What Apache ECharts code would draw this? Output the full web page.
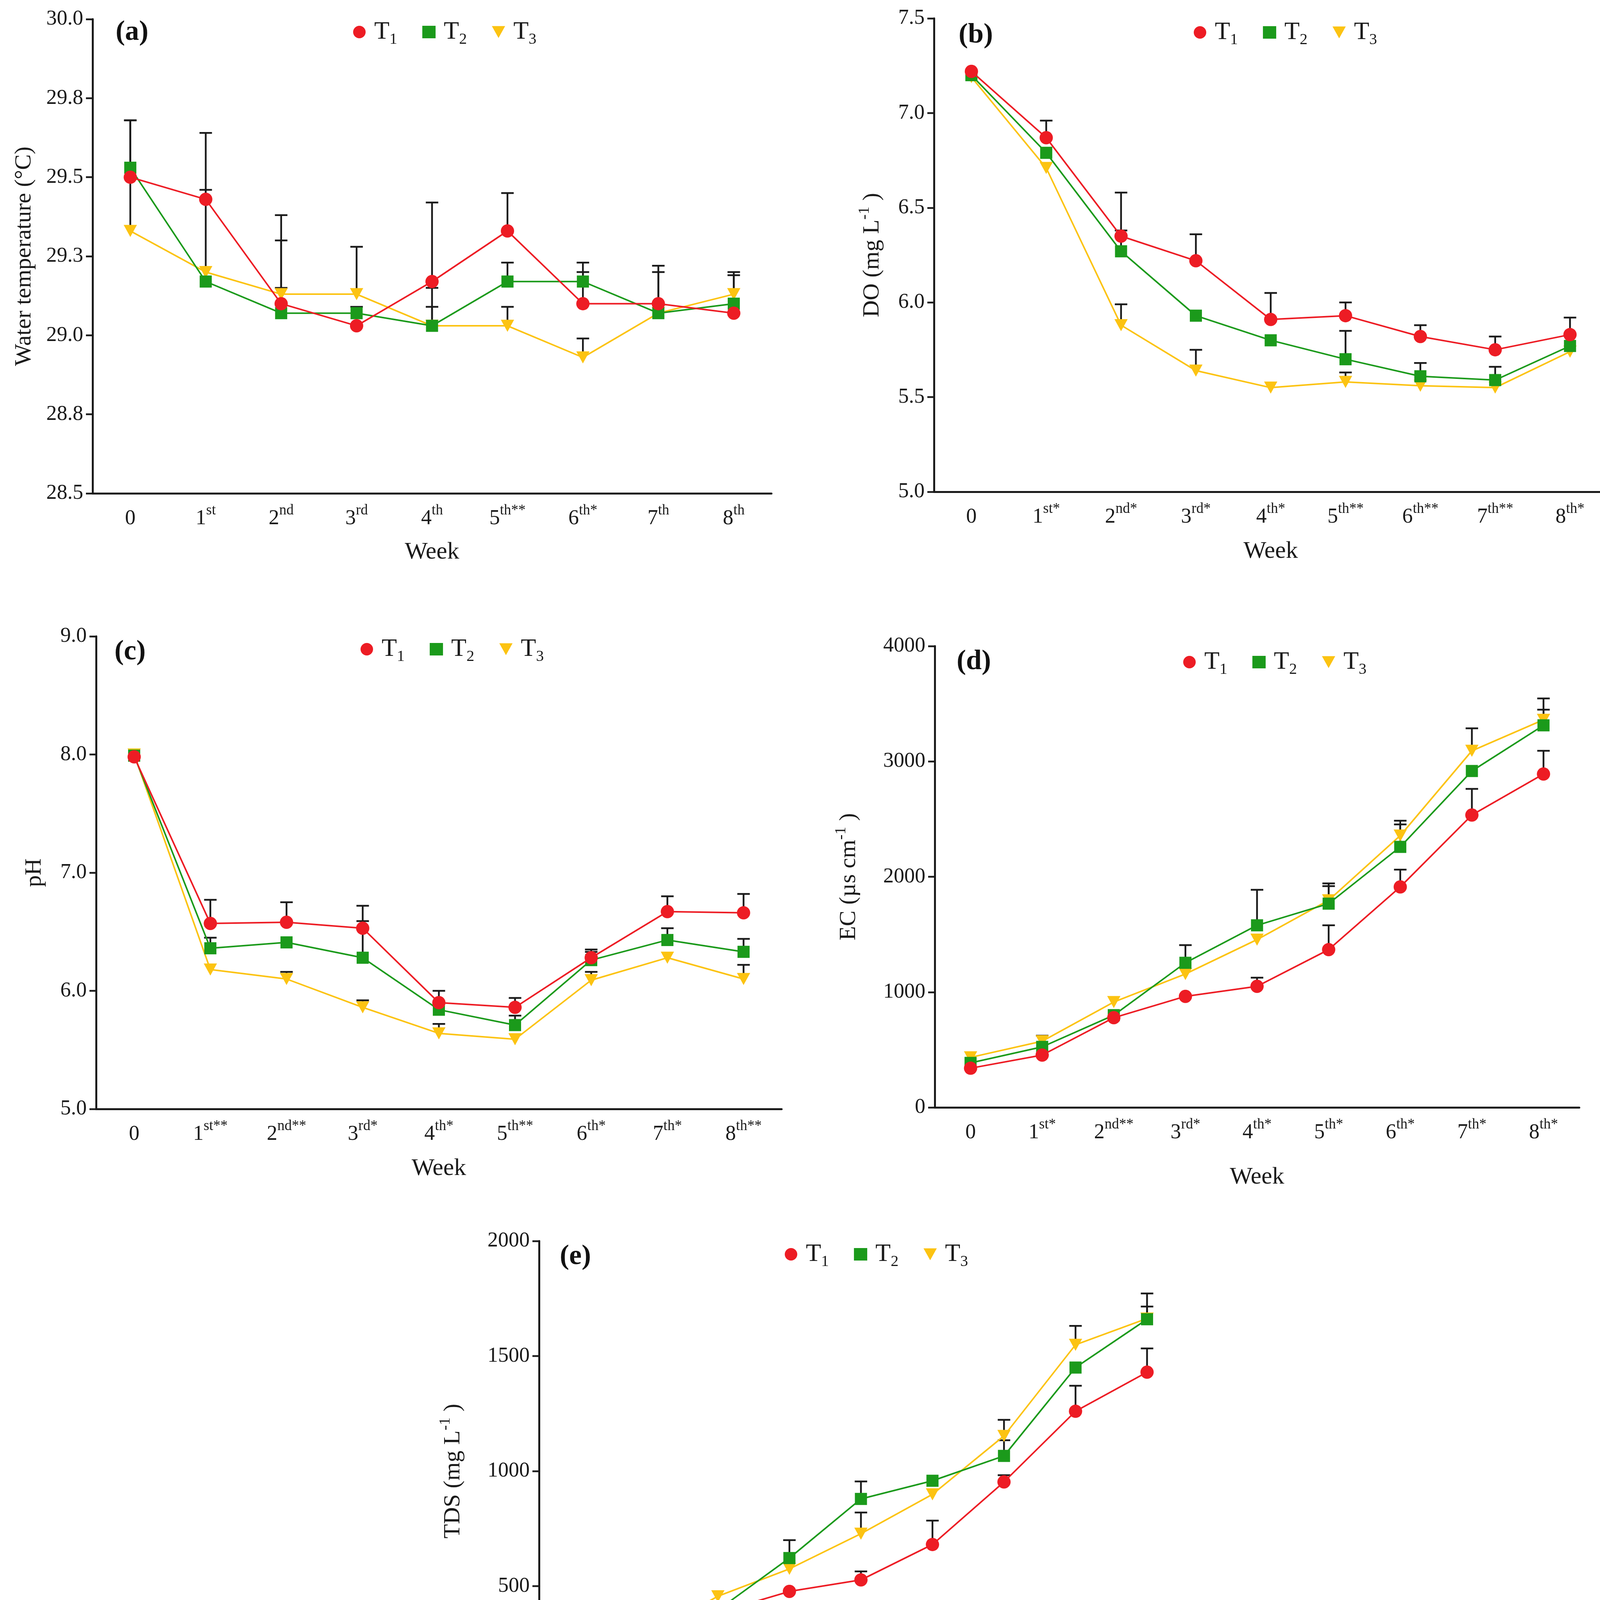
<!DOCTYPE html>
<html><head><meta charset="utf-8">
<script src="https://cdn.jsdelivr.net/npm/echarts@6.0.0/dist/echarts.min.js"></script>
<style>html,body{margin:0;padding:0;background:#fff}#c{width:4135px;height:4588px}</style>
</head><body><div id="c"></div>
<script>
// ---------- categories (week tick labels) ----------
const weeksA = ['0','1st','2nd','3rd','4th','5th**','6th*','7th','8th'];
const weeksB = ['0','1st*','2nd*','3rd*','4th*','5th**','6th**','7th**','8th*'];
const weeksC = ['0','1st**','2nd**','3rd*','4th*','5th**','6th*','7th*','8th**'];
const weeksD = ['0','1st*','2nd**','3rd*','4th*','5th*','6th*','7th*','8th*'];
const weeksE = ['0','1st*','2nd**','3rd*','4th**','5th**','6th*','7th*','8th*'];
const seriesNames = ['T1','T2','T3'];

// ---------- (a) water temperature ----------
const tempT1 = [29.50, 29.43, 29.10, 29.03, 29.17, 29.33, 29.10, 29.10, 29.07];
const tempT2 = [29.53, 29.17, 29.07, 29.07, 29.03, 29.17, 29.17, 29.07, 29.10];
const tempT3 = [29.33, 29.20, 29.13, 29.13, 29.03, 29.03, 28.93, 29.07, 29.13];
const tempT1Up = [29.68, 29.64, 29.38, null, 29.42, 29.45, 29.20, 29.22, null];
const tempT2Up = [29.68, 29.46, 29.30, 29.09, 29.15, 29.23, 29.23, 29.20, 29.20];
const tempT3Up = [29.50, null, 29.15, 29.28, 29.09, 29.09, 28.99, null, 29.19];

// ---------- (b) DO ----------
const doT1 = [7.22, 6.87, 6.35, 6.22, 5.91, 5.93, 5.82, 5.75, 5.83];
const doT2 = [7.20, 6.79, 6.27, 5.93, 5.80, 5.70, 5.61, 5.59, 5.77];
const doT3 = [7.19, 6.71, 5.88, 5.64, 5.55, 5.58, 5.56, 5.55, 5.74];
const doT1Up = [null, 6.96, 6.58, 6.36, 6.05, 6.00, 5.88, 5.82, 5.92];
const doT2Up = [null, null, 6.38, null, null, 5.85, 5.68, 5.66, null];
const doT3Up = [null, null, 5.99, 5.75, null, 5.63, null, null, null];

// ---------- (c) pH ----------
const phT1 = [7.98, 6.57, 6.58, 6.53, 5.90, 5.86, 6.28, 6.67, 6.66];
const phT2 = [7.99, 6.36, 6.41, 6.28, 5.84, 5.71, 6.26, 6.43, 6.33];
const phT3 = [8.00, 6.18, 6.10, 5.86, 5.64, 5.59, 6.09, 6.28, 6.10];
const phT1Up = [null, 6.77, 6.75, 6.72, 6.00, 5.94, 6.35, 6.80, 6.82];
const phT2Up = [null, 6.45, null, 6.59, null, 5.79, 6.33, 6.53, 6.44];
const phT3Up = [null, null, 6.16, 5.92, 5.72, null, 6.16, null, 6.22];

// ---------- (d) EC ----------
const ecT1 = [340, 454, 778, 963, 1050, 1368, 1912, 2535, 2891];
const ecT2 = [386, 525, 800, 1254, 1579, 1767, 2259, 2917, 3313];
const ecT3 = [434, 574, 914, 1157, 1455, 1796, 2357, 3092, 3361];
const ecT1Up = [null, null, null, null, 1125, 1579, 2062, 2762, 3092];
const ecT2Up = [null, 622, null, 1407, 1887, 1942, 2454, null, 3546];
const ecT3Up = [null, null, null, null, null, 1919, 2486, 3287, 3449];

// ---------- (e) TDS ----------
const tdsT1 = [168, 223, 385, 477, 527, 681, 953, 1260, 1430];
const tdsT2 = [190, 263, 396, 622, 879, 958, 1066, 1450, 1660];
const tdsT3 = [206, 285, 456, 575, 728, 899, 1153, 1549, 1663];
const tdsT1Up = [null, null, null, null, 564, 785, 982, 1371, 1533];
const tdsT2Up = [222, null, null, 700, 955, null, 1134, null, 1772];
const tdsT3Up = [null, 306, null, null, 820, null, 1223, 1631, 1715];

// ---------- y-axis ranges ----------
const yTemp = {min: 28.5, max: 30.0, interval: 0.25, dec: 1};
const yDO   = {min: 5.0, max: 7.5, interval: 0.5, dec: 1};
const yPH   = {min: 5.0, max: 9.0, interval: 1.0, dec: 1};
const yEC   = {min: 0, max: 4000, interval: 1000, dec: 0};
const yTDS  = {min: 0, max: 2000, interval: 500, dec: 0};

// ---------- styling / layout ----------
const FONT = 'Liberation Serif';
const INK = '#1a1a1a';
const COLORS = ['#ED1C24', '#1B9A1B', '#FCC312'];
const TRI = 'path://M0,0L10,0L5,9Z';
const SYMBOLS = ['circle', 'rect', TRI];
const SYMSIZE = [34, 31, [34, 31]];

const panels = [
  {tag:'(a)', cats:weeksA, y:yTemp, yName:'Water temperature (°C)', vals:[tempT1,tempT2,tempT3], ups:[tempT1Up,tempT2Up,tempT3Up],
   grid:{left:237, top:49, width:1738, height:1214}, yGap:135, xGap:120, lab:[338,83], leg:[921,89]},
  {tag:'(b)', cats:weeksB, y:yDO, yName:'DO (mg L{s|-1} )', vals:[doT1,doT2,doT3], ups:[doT1Up,doT2Up,doT3Up],
   grid:{left:2391, top:47, width:1724, height:1212}, yGap:118, xGap:122, lab:[2498,90], leg:[3073,90]},
  {tag:'(c)', cats:weeksC, y:yPH, yName:'pH', vals:[phT1,phT2,phT3], ups:[phT1Up,phT2Up,phT3Up],
   grid:{left:246, top:1629, width:1755, height:1210}, yGap:118, xGap:122, lab:[333,1669], leg:[940,1669]},
  {tag:'(d)', cats:weeksD, y:yEC, yName:'EC (µs cm{s|-1} )', vals:[ecT1,ecT2,ecT3], ups:[ecT1Up,ecT2Up,ecT3Up],
   grid:{left:2393, top:1654, width:1650, height:1181}, yGap:180, xGap:148, lab:[2493,1694], leg:[3046,1702]},
  {tag:'(e)', cats:weeksE, y:yTDS, yName:'TDS (mg L{s|-1} )', vals:[tdsT1,tdsT2,tdsT3], ups:[tdsT1Up,tdsT2Up,tdsT3Up],
   grid:{left:1380, top:3177, width:1648, height:1178}, yGap:180, xGap:150, lab:[1473,3217], leg:[2026,3218]}
];

function catFmt(v) {
  const m = /^(\d+)(.*)$/.exec(v);
  return m[2] ? '{n|' + m[1] + '}{s|' + m[2] + '}' : '{n|' + m[1] + '}';
}

function errRender(params, api) {
  const x = api.value(0), m = api.value(1), hi = api.value(2);
  const p0 = api.coord([x, m]);
  const p1 = api.coord([x, hi]);
  const w = 16;
  const style = {stroke: INK, lineWidth: 4.5};
  return {type: 'group', children: [
    {type: 'line', shape: {x1: p0[0], y1: p0[1], x2: p1[0], y2: p1[1]}, style: style},
    {type: 'line', shape: {x1: p1[0] - w, y1: p1[1], x2: p1[0] + w, y2: p1[1]}, style: style}
  ]};
}

const option = {
  backgroundColor: '#fff',
  animation: false,
  grid: [], xAxis: [], yAxis: [], series: [], legend: [], graphic: []
};

panels.forEach(function (p, k) {
  option.grid.push(Object.assign({containLabel: false}, p.grid));
  option.xAxis.push({
    type: 'category', gridIndex: k, data: p.cats, boundaryGap: true,
    name: 'Week', nameLocation: 'middle', nameGap: p.xGap,
    nameTextStyle: {fontFamily: FONT, fontSize: 62, color: INK},
    axisLine: {lineStyle: {color: INK, width: 5}},
    axisTick: {alignWithLabel: true, length: 17, lineStyle: {color: INK, width: 4.5}},
    axisLabel: {
      margin: 26, formatter: catFmt, color: INK, fontFamily: FONT, interval: 0,
      rich: {
        n: {fontFamily: FONT, fontSize: 54, lineHeight: 78, color: INK},
        s: {fontFamily: FONT, fontSize: 37, lineHeight: 37, verticalAlign: 'top', color: INK}
      }
    },
    splitLine: {show: false}
  });
  option.yAxis.push({
    type: 'value', gridIndex: k, min: p.y.min, max: p.y.max, interval: p.y.interval,
    name: p.yName, nameLocation: 'middle', nameGap: p.yGap, nameRotate: 90,
    nameTextStyle: {fontFamily: FONT, fontSize: 60, lineHeight: 80, color: INK,
      rich: {s: {fontFamily: FONT, fontSize: 40, lineHeight: 40, verticalAlign: 'top', color: INK}}},
    axisLine: {show: true, lineStyle: {color: INK, width: 5}},
    axisTick: {show: true, length: 17, lineStyle: {color: INK, width: 4.5}},
    axisLabel: {
      margin: 24, color: INK, fontFamily: FONT, fontSize: 54,
      formatter: (function (d) { return function (v) { return d ? v.toFixed(d) : String(v); }; })(p.y.dec)
    },
    splitLine: {show: false}
  });
  // error bars (upper SD)
  p.ups.forEach(function (up, s) {
    const data = [];
    up.forEach(function (hi, i) { if (hi !== null) data.push([i, p.vals[s][i], hi]); });
    option.series.push({
      type: 'custom', name: seriesNames[s] + ' SD', xAxisIndex: k, yAxisIndex: k,
      renderItem: errRender, data: data, encode: {x: 0, y: [1, 2]}, z: 1, silent: true
    });
  });
  // mean lines
  p.vals.forEach(function (vals, s) {
    option.series.push({
      type: 'line', name: seriesNames[s], xAxisIndex: k, yAxisIndex: k, data: vals,
      symbol: SYMBOLS[s], symbolSize: SYMSIZE[s], showSymbol: true,
      lineStyle: {color: COLORS[s], width: 4},
      itemStyle: {color: COLORS[s], borderWidth: 0},
      z: 5 - s
    });
  });
  option.legend.push({
    left: p.leg[0] - 17, top: p.leg[1] - 39, orient: 'horizontal', padding: 0,
    itemWidth: 34, itemHeight: 32, itemGap: 64, selectedMode: false,
    data: [{name: 'T1', icon: 'circle'}, {name: 'T2', icon: 'rect'}, {name: 'T3', icon: TRI}],
    formatter: function (n) { return '{t|T}{b|' + n.slice(1) + '}'; },
    textStyle: {fontFamily: FONT, color: INK, rich: {
      t: {fontFamily: FONT, fontSize: 64, lineHeight: 78, padding: [0, 0, 0, 16], color: INK},
      b: {fontFamily: FONT, fontSize: 40, lineHeight: 40, verticalAlign: 'bottom', color: INK}
    }}
  });
  option.graphic.push({
    type: 'text', x: p.lab[0], y: p.lab[1],
    style: {text: p.tag, font: 'bold 72px "' + FONT + '"', fill: '#111',
      align: 'center', verticalAlign: 'middle', textAlign: 'center', textVerticalAlign: 'middle'}
  });
});

const chart = echarts.init(document.getElementById('c'), null, {renderer: 'canvas'});
chart.setOption(option);
</script>
</body></html>
